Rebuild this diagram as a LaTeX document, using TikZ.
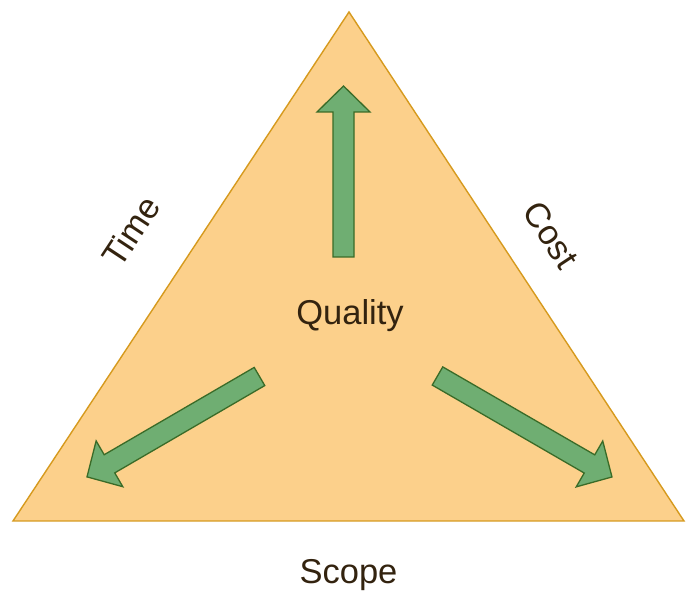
\documentclass[tikz,border=0pt]{standalone}
\usepackage{fontspec}
\setmainfont{Liberation Sans}
\definecolor{trifill}{HTML}{FCD08B}
\definecolor{tridraw}{HTML}{D69A1E}
\definecolor{arrfill}{HTML}{6FAE72}
\definecolor{arrdraw}{HTML}{3A6B28}
\definecolor{txt}{HTML}{33230F}
\tikzset{
  blockarrow/.style={draw=arrdraw, fill=arrfill, line width=1.3pt, line join=miter},
  lbl/.style={text=txt, font=\fontsize{34.5}{40}\selectfont, inner sep=0pt}
}
% #1 name, #2 tail point, #3 angle, #4 length
\newcommand\blockarr[4]{%
  \begin{scope}[shift={#2}, rotate=#3]
    \coordinate (#1-tail) at (0,0);
    \coordinate (#1-tip) at (#4,0);
    \draw[blockarrow] (0,-10.5) -- (#4-26,-10.5) -- (#4-26,-26.5) -- (#1-tip)
      -- (#4-26,26.5) -- (#4-26,10.5) -- (0,10.5) -- cycle;
  \end{scope}}
\begin{document}
\begin{tikzpicture}[x=1pt,y=1pt]
\useasboundingbox (0,0) rectangle (697,601);
\draw[fill=trifill, draw=tridraw, line width=1.4pt, line join=miter]
  (349,589) coordinate (apex) -- (684,80) coordinate (br) -- (13,80) coordinate (bl) -- cycle;
\blockarr{up}{(343.5,344)}{90}{171}
\blockarr{left}{(259.5,224.5)}{210.2}{199.6}
\blockarr{right}{(437.5,225)}{-30.06}{201.6}
\node[lbl, anchor=base] (quality) at (350,276) {Quality};
\node[lbl, anchor=base] (scope) at (348.5,17) {Scope};
\node[lbl, rotate=56.6] (time) at (131,369.5) {Time};
\node[lbl, rotate=-56.6] (cost) at (551,366) {Cost};
\end{tikzpicture}
\end{document}
